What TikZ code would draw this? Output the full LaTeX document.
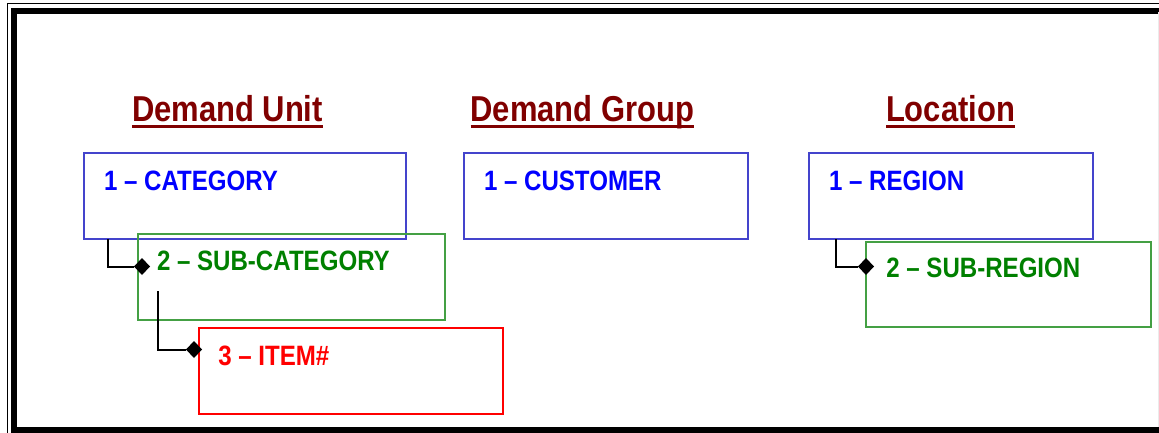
\documentclass[tikz,border=0pt]{standalone}
\usepackage{fontspec}
\setmainfont{Liberation Sans}[FakeStretch=0.86]
\usetikzlibrary{shapes.geometric}
\definecolor{headred}{HTML}{800000}
\definecolor{lvlblue}{HTML}{0000FF}
\definecolor{lvlblueline}{HTML}{4444CC}
\definecolor{lvlgreen}{HTML}{008000}
\definecolor{lvlgreenline}{HTML}{44A044}
\definecolor{lvlred}{HTML}{FF0000}
\begin{document}
\begin{tikzpicture}[x=1pt,y=-1pt,
  box/.style={draw, line width=2pt, rectangle, anchor=north west,
    inner sep=0pt, outer sep=0pt},
  bluebox/.style={box, draw=lvlblueline},
  greenbox/.style={box, draw=lvlgreenline},
  redbox/.style={box, draw=lvlred},
  heading/.style={anchor=base west, inner sep=0pt, outer sep=0pt,
    text=headred, font=\fontsize{36}{40}\selectfont\bfseries},
  lvltext/.style={anchor=base west, inner sep=0pt, outer sep=0pt,
    font=\fontsize{28}{32}\selectfont\bfseries},
  conn/.style={draw=black, line width=2pt},
  joint/.style={diamond, fill=black, inner sep=0pt, outer sep=0pt,
    minimum width=16pt, minimum height=17pt},
  uline/.style={line width=3pt, headred}]
\useasboundingbox (0,0) rectangle (1159,433);

% double frame round the sheet
\begin{scope}
  \clip (0,0) rectangle (1159,433);
  \draw[line width=1.3pt] (7.5,3.3) -- (1175,3.3);
  \draw[line width=1.3pt] (7.5,3.3) -- (7.5,445);
  \draw[line width=6.5pt] (14,11) rectangle (1163.5,430.2);
  \draw[black!8, line width=0.9pt] (1158.4,12) -- (1158.4,427);
\end{scope}

% column headings
\node[heading] (hunit) at (132,122) {Demand Unit};
\node[heading] (hgroup) at (470.5,122) {Demand Group};
\node[heading] (hloc) at (886,122) {Location};
\foreach \h in {hunit,hgroup,hloc}
  \draw[uline] ([yshift=-4.8pt]\h.base west) -- ([yshift=-4.8pt]\h.base east);

% level boxes
\node[bluebox, minimum width=322pt, minimum height=86pt] (cat) at (84.3,153.3) {};
\node[greenbox, minimum width=307.3pt, minimum height=85.7pt] (subcat) at (137.7,234.3) {};
\node[redbox, minimum width=304pt, minimum height=86pt] (item) at (198.8,328.3) {};
\node[bluebox, minimum width=283.7pt, minimum height=86pt] (cust) at (464,153.3) {};
\node[bluebox, minimum width=284pt, minimum height=86pt] (reg) at (809.3,153.3) {};
\node[greenbox, minimum width=284.7pt, minimum height=85pt] (subreg) at (866,241.7) {};

% level labels
\node[lvltext, text=lvlblue] (tcat) at (104,190) {1 – CATEGORY};
\node[lvltext, text=lvlgreen] (tsubcat) at (157,270.7) {2 – SUB-CATEGORY};
\node[lvltext, text=lvlred] (titem) at (218.3,365) {3 – ITEM\#};
\node[lvltext, text=lvlblue] (tcust) at (484,190) {1 – CUSTOMER};
\node[lvltext, text=lvlblue] (treg) at (829,190) {1 – REGION};
\node[lvltext, text=lvlgreen] (tsubreg) at (886.3,277.3) {2 – SUB-REGION};

% parent-child links
\node[joint] (d1) at (142,266.5) {};
\node[joint] (d2) at (194,349.5) {};
\node[joint] (d3) at (866,266.5) {};
\coordinate (s2) at (157.5,291);
\draw[conn] ([xshift=23.2pt]cat.south west) |- (d1);
\draw[conn] (s2) |- (d2);
\draw[conn] ([xshift=26.7pt]reg.south west) |- (d3);
\end{tikzpicture}
\end{document}
